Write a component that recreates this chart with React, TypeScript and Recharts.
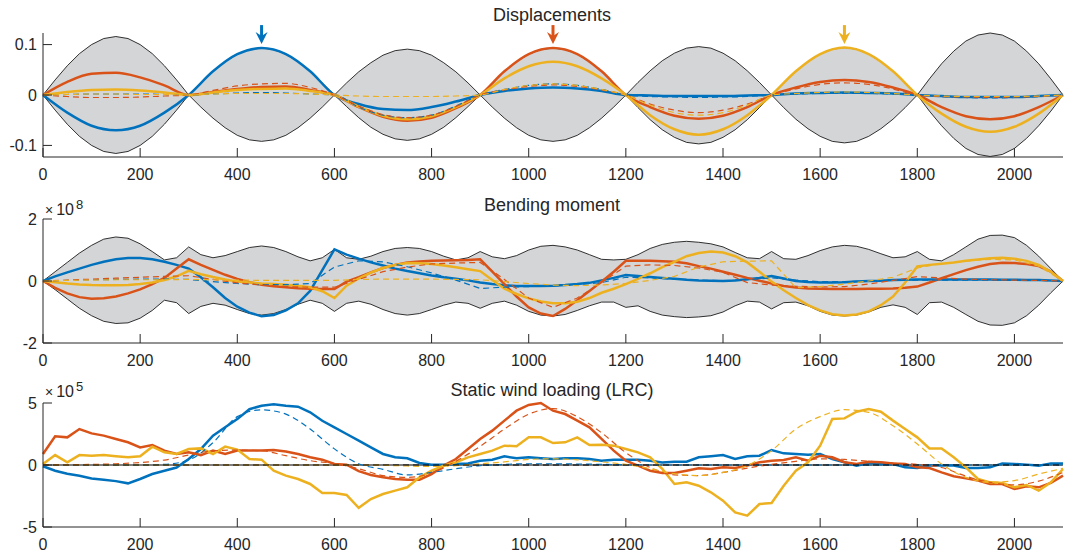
import React from 'react'
import { Area, ComposedChart, Line, ReferenceDot, ReferenceLine, XAxis, YAxis } from 'recharts'

// MATLAB default line colours
const BLUE = '#0072BD'
const RED = '#D95319'
const YELLOW = '#EDB120'
const INK = '#262626'
const GRAY = '#D4D5D7'
const FONT = '"Liberation Sans", Arial, Helvetica, sans-serif'

// positions along the deck
const xs25 = [0, 25, 50, 75, 100, 125, 150, 175, 200, 225, 250, 275, 300, 325, 350, 375, 400, 425, 450, 475, 500, 525, 550, 575,
  600, 625, 650, 675, 700, 725, 750, 775, 800, 825, 850, 875, 900, 925, 950, 975, 1000, 1025, 1050, 1075, 1100, 1125, 1150, 1175,
  1200, 1225, 1250, 1275, 1300, 1325, 1350, 1375, 1400, 1425, 1450, 1475, 1500, 1525, 1550, 1575, 1600, 1625, 1650, 1675, 1700, 1725,
  1750, 1775, 1800, 1825, 1850, 1875, 1900, 1925, 1950, 1975, 2000, 2025, 2050, 2075, 2100]
const xs50 = [0, 50, 100, 150, 200, 250, 300, 350, 400, 450, 500, 550, 600, 650, 700, 750, 800, 850, 900, 950, 1000, 1050,
  1100, 1150, 1200, 1250, 1300, 1350, 1400, 1450, 1500, 1550, 1600, 1650, 1700, 1750, 1800, 1850, 1900, 1950, 2000, 2050, 2100]
const xTicks = [0, 200, 400, 600, 800, 1000, 1200, 1400, 1600, 1800, 2000]

// ---- displacements ----
const dispHi = [0, .030, .058, .082, .100, .112, .116, .112, .100, .082, .058, .030,
  0, .024, .047, .066, .081, .090, .093, .090, .081, .066, .047, .024,
  0, .024, .046, .064, .079, .088, .091, .088, .079, .064, .046, .024,
  0, .024, .047, .066, .081, .090, .093, .090, .081, .066, .047, .024,
  0, .025, .048, .068, .083, .093, .096, .093, .083, .068, .048, .025,
  0, .024, .047, .066, .081, .091, .094, .091, .081, .066, .047, .024,
  0, .032, .062, .087, .107, .119, .123, .119, .107, .087, .062, .032, 0]
const dispLo = [0, -.030, -.058, -.082, -.100, -.112, -.116, -.112, -.100, -.082, -.058, -.030,
  0, -.024, -.046, -.065, -.080, -.089, -.092, -.089, -.080, -.065, -.046, -.024,
  0, -.023, -.045, -.064, -.078, -.087, -.090, -.087, -.078, -.064, -.045, -.023,
  0, -.024, -.046, -.065, -.080, -.089, -.092, -.089, -.080, -.065, -.046, -.024,
  0, -.025, -.049, -.069, -.084, -.094, -.097, -.094, -.084, -.069, -.049, -.025,
  0, -.025, -.048, -.067, -.082, -.092, -.095, -.092, -.082, -.067, -.048, -.025,
  0, -.032, -.061, -.086, -.106, -.118, -.122, -.118, -.106, -.086, -.061, -.032, 0]
const dispBlue = [0, -.035, -.061, -.070, -.061, -.035, 0, .047, .081, .093, .081, .047, 0, -.018, -.028, -.030, -.024, -.013,
  0, .008, .013, .015, .013, .008, 0, -.001, -.002, -.002, -.002, -.001, 0, .003, .004, .005, .004, .003, 0, -.002, -.004, -.004, -.004, -.002, 0]
const dispBlueD = [0, .001, .002, .002, .002, .001, 0, .002, .004, .005, .004, .002, 0, -.024, -.040, -.045, -.040, -.022,
  0, .011, .019, .022, .019, .011, 0, -.003, -.004, -.005, -.004, -.003, 0, .002, .003, .003, .003, .002, 0, -.003, -.005, -.006, -.005, -.003, 0]
const dispRed = [0, .026, .042, .044, .035, .019, 0, .006, .012, .016, .017, .010, 0, -.024, -.043, -.051, -.045, -.026,
  0, .047, .081, .093, .081, .047, 0, -.024, -.041, -.047, -.041, -.024, 0, .015, .026, .030, .026, .015, 0, -.024, -.042, -.048, -.042, -.024, 0]
const dispRedD = [0, -.003, -.005, -.005, -.004, -.002, 0, .009, .018, .022, .023, .015, 0, -.022, -.039, -.045, -.040, -.023,
  0, .010, .017, .020, .017, .010, 0, -.018, -.030, -.035, -.030, -.018, 0, .012, .021, .024, .021, .012, 0, -.003, -.004, -.005, -.004, -.003, 0]
const dispYellow = [0, .006, .010, .011, .009, .005, 0, .005, .010, .012, .013, .008, 0, -.023, -.041, -.048, -.042, -.024,
  0, .033, .057, .066, .057, .033, 0, -.040, -.068, -.079, -.068, -.040, 0, .047, .081, .094, .081, .047, 0, -.037, -.063, -.073, -.063, -.037, 0]
const dispYellowD = [0, .001, .002, .002, .001, .001, 0, .002, .003, .003, .003, .002, 0, -.002, -.003, -.003, -.003, -.002,
  0, .011, .019, .022, .019, .011, 0, -.020, -.035, -.040, -.035, -.020, 0, .003, .005, .006, .005, .003, 0, -.002, -.003, -.003, -.003, -.002, 0]
const dispTicks = [-0.1, 0, 0.1]
const arrowX = [450, 1050, 1650]
const arrowColor = [BLUE, RED, YELLOW]

// ---- bending moment (x 1e8) ----
const bendHi = [0, .30, .60, .90, 1.15, 1.35, 1.42, 1.38, 1.20, .95, .68, .75,
  1.10, .85, .75, .82, .95, 1.08, 1.13, 1.08, .95, .78, .65, .75,
  1.02, .75, .70, .80, .95, 1.05, 1.08, 1.05, .95, .80, .68, .75,
  .95, .78, .72, .82, 1.00, 1.12, 1.15, 1.10, 1.00, .85, .70, .68,
  .70, .85, 1.05, 1.18, 1.25, 1.28, 1.25, 1.20, 1.10, .92, .75, .72,
  .95, .72, .70, .82, .98, 1.10, 1.15, 1.12, 1.02, .88, .75, .78,
  .95, .70, .65, .85, 1.10, 1.35, 1.47, 1.48, 1.40, 1.15, .80, .40, 0]
const bendLo = [0, -.28, -.58, -.88, -1.12, -1.30, -1.37, -1.35, -1.20, -.95, -.62, -.70,
  -1.05, -.82, -.72, -.78, -.92, -1.05, -1.10, -1.05, -.92, -.75, -.62, -.72,
  -.98, -.72, -.65, -.75, -.92, -1.05, -1.10, -1.05, -.92, -.78, -.68, -.72,
  -.88, -.72, -.65, -.78, -.98, -1.10, -1.13, -1.08, -.95, -.80, -.68, -.68,
  -.85, -.80, -.98, -1.10, -1.15, -1.18, -1.16, -1.12, -1.00, -.80, -.65, -.68,
  -.90, -.70, -.68, -.80, -.98, -1.10, -1.13, -1.10, -1.00, -.85, -.77, -.85,
  -1.08, -.70, -.68, -.85, -1.08, -1.30, -1.42, -1.43, -1.35, -1.12, -.78, -.38, 0]
const bendBlue = [0, .15, .28, .40, .52, .62, .70, .74, .74, .70, .62, .52,
  .40, .12, -.20, -.55, -.83, -1.02, -1.14, -1.10, -.95, -.72, -.32, .35,
  1.02, .85, .72, .60, .50, .40, .32, .25, .18, .12, .07, .02,
  -.05, -.10, -.14, -.16, -.16, -.16, -.15, -.13, -.10, -.06, .02, .10,
  .19, .16, .13, .10, .07, .04, .02, .01, .00, .02, .06, .10,
  .16, .08, .00, -.03, -.05, -.05, -.04, -.02, .00, .01, .03, .04,
  .05, .05, .05, .05, .05, .05, .05, .04, .04, .03, .03, .02, 0]
const bendRed = [0, -.22, -.40, -.52, -.57, -.56, -.50, -.40, -.27, -.10, .10, .40,
  .70, .52, .36, .20, .07, -.04, -.12, -.17, -.20, -.23, -.25, -.26,
  -.26, -.02, .12, .28, .42, .52, .60, .63, .65, .66, .67, .68,
  .70, .30, -.10, -.50, -.85, -1.05, -1.13, -.90, -.62, -.32, -.02, .30,
  .65, .65, .65, .64, .62, .57, .48, .40, .30, .20, .10, .01,
  -.08, -.16, -.21, -.24, -.25, -.26, -.26, -.26, -.25, -.25, -.24, -.22,
  -.18, -.05, .09, .22, .35, .46, .55, .59, .58, .55, .48, .30, 0]
const bendYellow = [0, -.04, -.08, -.11, -.13, -.14, -.14, -.13, -.10, -.05, .03, .15,
  .33, .22, .13, .05, -.02, -.05, -.08, -.10, -.12, -.15, -.20, -.33,
  -.55, -.15, .08, .27, .42, .52, .58, .57, .55, .50, .44, .38,
  .32, .03, -.25, -.42, -.56, -.66, -.72, -.72, -.67, -.55, -.38, -.25,
  -.10, .07, .25, .45, .62, .80, .90, .95, .92, .80, .60, .30,
  -.02, -.30, -.55, -.78, -.95, -1.07, -1.11, -1.08, -.98, -.78, -.50, -.05,
  .47, .52, .56, .60, .65, .69, .73, .75, .72, .65, .52, .30, 0]
const bendBlueD = [0, .02, .04, .05, .06, .06, .05, -.02, -.08, -.12, -.12, -.08, .45, .65, .62, .46, .26, .03, -.24, -.20, -.18, -.16,
  -.12, -.05, .12, .10, .06, .03, .01, .04, .10, .03, -.02, -.02, .00, .02, .03, .03, .03, .03, .03, .02, 0]
const bendRedD = [0, .03, .06, .09, .12, .15, .17, .05, -.06, -.13, -.18, -.20, -.20, .05, .30, .45, .55, .58, .60, .05, -.55, -.85,
  -.55, -.05, .48, .52, .50, .42, .28, -.05, -.13, -.17, -.19, -.18, -.10, .02, .14, .10, .06, .04, .03, .02, 0]
const bendYellowD = [0, .02, .03, .04, .04, .04, .05, .04, .03, .02, .02, .02, .02, .05, .06, .06, .06, .05, .04, -.02, -.08, -.13,
  -.15, -.13, -.08, .02, .15, .45, .62, .64, .65, -.22, -.18, -.10, .00, .12, .42, .56, .64, .70, .68, .48, 0]
const bendTicks = [-2, 0, 2]

// ---- static wind loading (x 1e5) ----
const windBlue = [-.10, -.46, -.70, -.86, -1.08, -1.18, -1.30, -1.48, -1.13, -.73, -.46, -.20,
  .48, 1.29, 2.37, 3.04, 3.70, 4.50, 4.78, 4.90, 4.78, 4.70, 4.25, 3.57,
  3.04, 2.50, 1.96, 1.42, .89, .62, .54, .16, .03, .03, .08, .13,
  .35, .43, .70, .54, .62, .54, .48, .54, .54, .48, .35, .43,
  .43, .43, .35, .20, .27, .27, .62, .70, .80, .48, .70, .75,
  1.20, .94, .89, .83, .89, .48, .22, -.05, .16, .08, .08, -.19,
  -.24, -.05, -.05, -.05, -.24, -.24, -.19, .13, .08, .03, -.05, .13, .13]
const windRed = [.89, 2.31, 2.23, 2.90, 2.55, 2.37, 2.10, 1.83, 1.42, 1.61, 1.16, .89,
  1.02, .80, 1.16, .89, 1.16, 1.16, 1.16, 1.21, 1.08, .89, .62, .43,
  .08, .03, -.50, -.81, -.99, -1.13, -1.18, -1.18, -.73, -.05, .48, 1.29,
  2.10, 2.77, 3.58, 4.38, 4.84, 5.00, 4.38, 4.11, 3.58, 3.04, 2.10, 1.16,
  .35, -.05, -.46, -.65, -.65, -.46, -.27, -.32, -.19, -.24, -.05, .22,
  .35, .40, .62, .35, .75, .62, .22, .08, .27, .22, .13, .08,
  -.19, -.24, -.59, -.91, -1.08, -1.26, -1.53, -1.53, -1.94, -1.72, -1.80, -1.45, -.86]
const windYellow = [.08, .80, .22, .80, .75, .80, .70, .62, .70, 1.48, 1.02, .89,
  1.29, 1.34, .89, 1.48, 1.24, .48, .43, -.46, -.86, -1.13, -1.53, -2.26,
  -2.26, -2.42, -3.45, -2.74, -2.34, -2.07, -1.80, -.99, -.46, -.05, .22, .62,
  .89, 1.16, 1.56, 1.51, 2.23, 2.23, 1.77, 1.83, 2.23, 1.61, 1.64, 1.56,
  1.29, 1.02, .62, -.32, -1.53, -1.40, -1.67, -2.20, -2.88, -3.82, -4.09, -3.15,
  -3.06, -1.67, -.46, .22, 1.56, 3.71, 3.76, 4.30, 4.52, 4.30, 3.58, 2.90,
  2.23, 1.34, 1.34, .62, -.19, -1.13, -1.40, -1.45, -1.80, -1.61, -2.07, -1.40, -.32]
const windBlueD = [0, 0, 0, 0, 0, .05, .40, 1.80, 3.90, 4.45, 4.10, 2.90, 1.30, .10, -.35, -.80, -.60, -.30, -.05, .05, .10, .10,
  .08, .05, .02, 0, 0, 0, 0, 0, 0, 0, 0, 0, 0, 0, 0, 0, 0, 0, 0, 0, 0]
const windRedD = [0, .02, .05, .10, .20, .40, .80, 1.15, 1.20, 1.15, .75, .35, .12, -.30, -.85, -1.00, -.65, .30, 1.50, 2.90, 4.10, 4.55,
  3.90, 2.60, 1.00, -.20, -.80, -.85, -.60, -.25, .05, .30, .50, .45, .30, .15, .05, -.20, -.90, -1.40, -1.60, -1.30, -.60]
const windYellowD = [0, 0, 0, 0, 0, 0, 0, 0, 0, 0, 0, 0, 0, 0, -.02, -.08, -.12, -.05, .10, .25, .45, .50,
  .42, .25, .05, -.30, -.70, -.85, -.60, -.05, 1.16, 2.90, 3.90, 4.46, 4.25, 3.17, 1.70, .08, -1.00, -1.40, -1.26, -.73, -.27]
const windTicks = [-5, 0, 5]

const pts = (xs: number[], ys: number[]) => xs.map((x, i) => ({ x, y: ys[i] }))

const dispData = xs25.map((x, i) => ({ x, band: [dispLo[i], dispHi[i]], lo: dispLo[i], hi: dispHi[i] }))
const bendData = xs25.map((x, i) => ({
  x, band: [bendLo[i], bendHi[i]], lo: bendLo[i], hi: bendHi[i],
  blue: bendBlue[i], red: bendRed[i], yellow: bendYellow[i],
}))
const windData = xs25.map((x, i) => ({ x, blue: windBlue[i], red: windRed[i], yellow: windYellow[i] }))

const solid = (c: string) => ({ stroke: c, strokeWidth: 2.5, dot: false, activeDot: false, isAnimationActive: false })
const dashed = (c: string) => ({ stroke: c, strokeWidth: 1.2, strokeDasharray: '6 4', dot: false, activeDot: false, isAnimationActive: false })
const edge = { stroke: '#000', strokeWidth: 0.8, dot: false, activeDot: false, isAnimationActive: false, type: 'linear' as const }

function XTick({ x, y, payload }: any) {
  return (
    <g>
      <line x1={x} x2={x} y1={y} y2={y - 9} stroke={INK} strokeWidth={1} />
      <text x={x} y={y + 17} textAnchor="middle" dominantBaseline="central" fontSize={16} fill={INK} fontFamily={FONT}>{payload.value}</text>
    </g>
  )
}

function YTick({ x, y, payload }: any) {
  return (
    <g>
      <line x1={x} x2={x + 9} y1={y} y2={y} stroke={INK} strokeWidth={1} />
      <text x={x - 6} y={y} textAnchor="end" dominantBaseline="central" fontSize={16} fill={INK} fontFamily={FONT}>{payload.value}</text>
    </g>
  )
}

const axes = (domain: number[], ticks: number[]) => [
  <XAxis key="x" type="number" dataKey="x" domain={[0, 2100]} ticks={xTicks} interval={0} height={25}
    tickSize={0} tickMargin={0} tickLine={false} axisLine={{ stroke: INK, strokeWidth: 1 }} tick={(p: any) => <XTick {...p} />} />,
  <YAxis key="y" type="number" domain={domain} ticks={ticks} interval={0} width={43}
    tickSize={0} tickMargin={0} tickLine={false} axisLine={{ stroke: INK, strokeWidth: 1 }} tick={(p: any) => <YTick {...p} />} />,
]

// MATLAB-style annotation arrow, tip at the dot
const arrowShape = (color: string) => (p: any) => {
  const { cx, cy } = p
  return (
    <g>
      <line x1={cx} x2={cx} y1={cy - 19} y2={cy - 7} stroke={color} strokeWidth={3} />
      <path d={`M${cx - 6},${cy - 12} L${cx},${cy - 8} L${cx + 6},${cy - 12} L${cx},${cy} Z`} fill={color} />
    </g>
  )
}

// "×10^n" axis multiplier, MATLAB style
function Exponent({ y, n }: { y: number; n: number }) {
  return (
    <text x={45} y={y} fill={INK} fontFamily={FONT}>
      <tspan fontSize={14}>×</tspan>
      <tspan fontSize={16} dx={3}>10</tspan>
      <tspan fontSize={13} dx={2} dy={-6}>{n}</tspan>
    </text>
  )
}

const margin = { top: 33, right: 2, left: 0, bottom: 0 }

export default function App() {
  return (
    <div style={{ position: 'absolute', left: 0, top: 0, width: 1065, height: 554, background: '#fff', fontFamily: FONT }}>
      <div style={{ position: 'absolute', left: 0, top: 0 }}>
        <ComposedChart width={1065} height={182} data={dispData} margin={margin}>
          {axes([-0.123, 0.123], dispTicks)}
          <Area dataKey="band" type="linear" fill={GRAY} fillOpacity={1} stroke="none" isAnimationActive={false} activeDot={false} />
          <Line dataKey="hi" {...edge} />
          <Line dataKey="lo" {...edge} />
          <Line data={pts(xs50, dispBlue)} dataKey="y" type="monotone" {...solid(BLUE)} />
          <Line data={pts(xs50, dispRed)} dataKey="y" type="monotone" {...solid(RED)} />
          <Line data={pts(xs50, dispYellow)} dataKey="y" type="monotone" {...solid(YELLOW)} />
          <Line data={pts(xs50, dispBlueD)} dataKey="y" type="monotone" {...dashed(BLUE)} />
          <Line data={pts(xs50, dispRedD)} dataKey="y" type="monotone" {...dashed(RED)} />
          <Line data={pts(xs50, dispYellowD)} dataKey="y" type="monotone" {...dashed(YELLOW)} />
          {arrowX.map((ax, i) => (
            <ReferenceDot key={ax} x={ax} y={0.101} r={0} ifOverflow="visible" shape={arrowShape(arrowColor[i])} />
          ))}
        </ComposedChart>
      </div>
      <div style={{ position: 'absolute', left: 0, top: 186 }}>
        <ComposedChart width={1065} height={182} data={bendData} margin={margin}>
          {axes([-2, 2], bendTicks)}
          <Area dataKey="band" type="linear" fill={GRAY} fillOpacity={1} stroke="none" isAnimationActive={false} activeDot={false} />
          <Line dataKey="hi" {...edge} />
          <Line dataKey="lo" {...edge} />
          <Line dataKey="blue" type="linear" {...solid(BLUE)} />
          <Line dataKey="red" type="linear" {...solid(RED)} />
          <Line dataKey="yellow" type="linear" {...solid(YELLOW)} />
          <Line data={pts(xs50, bendBlueD)} dataKey="y" type="linear" {...dashed(BLUE)} />
          <Line data={pts(xs50, bendRedD)} dataKey="y" type="linear" {...dashed(RED)} />
          <Line data={pts(xs50, bendYellowD)} dataKey="y" type="linear" {...dashed(YELLOW)} />
        </ComposedChart>
      </div>
      <div style={{ position: 'absolute', left: 0, top: 370 }}>
        <ComposedChart width={1065} height={182} data={windData} margin={margin}>
          {axes([-5, 5], windTicks)}
          <ReferenceLine y={0} stroke="#000" strokeWidth={1.2} />
          <Line dataKey="blue" type="linear" {...solid(BLUE)} />
          <Line dataKey="red" type="linear" {...solid(RED)} />
          <Line dataKey="yellow" type="linear" {...solid(YELLOW)} />
          <Line data={pts(xs50, windBlueD)} dataKey="y" type="monotone" {...dashed(BLUE)} />
          <Line data={pts(xs50, windRedD)} dataKey="y" type="monotone" {...dashed(RED)} />
          <Line data={pts(xs50, windYellowD)} dataKey="y" type="monotone" {...dashed(YELLOW)} />
          <ReferenceLine y={0} stroke="#000" strokeWidth={1} strokeDasharray="6 4" />
        </ComposedChart>
      </div>
      <svg width={1065} height={554} style={{ position: 'absolute', left: 0, top: 0, pointerEvents: 'none' }}>
        <g fontFamily={FONT} fill={INK}>
          <text x={552} y={15} fontSize={18} textAnchor="middle" dominantBaseline="central">Displacements</text>
          <text x={552} y={205} fontSize={18} textAnchor="middle" dominantBaseline="central">Bending moment</text>
          <text x={552} y={390} fontSize={18} textAnchor="middle" dominantBaseline="central">Static wind loading (LRC)</text>
        </g>
        <Exponent y={215} n={8} />
        <Exponent y={397} n={5} />
      </svg>
    </div>
  )
}
